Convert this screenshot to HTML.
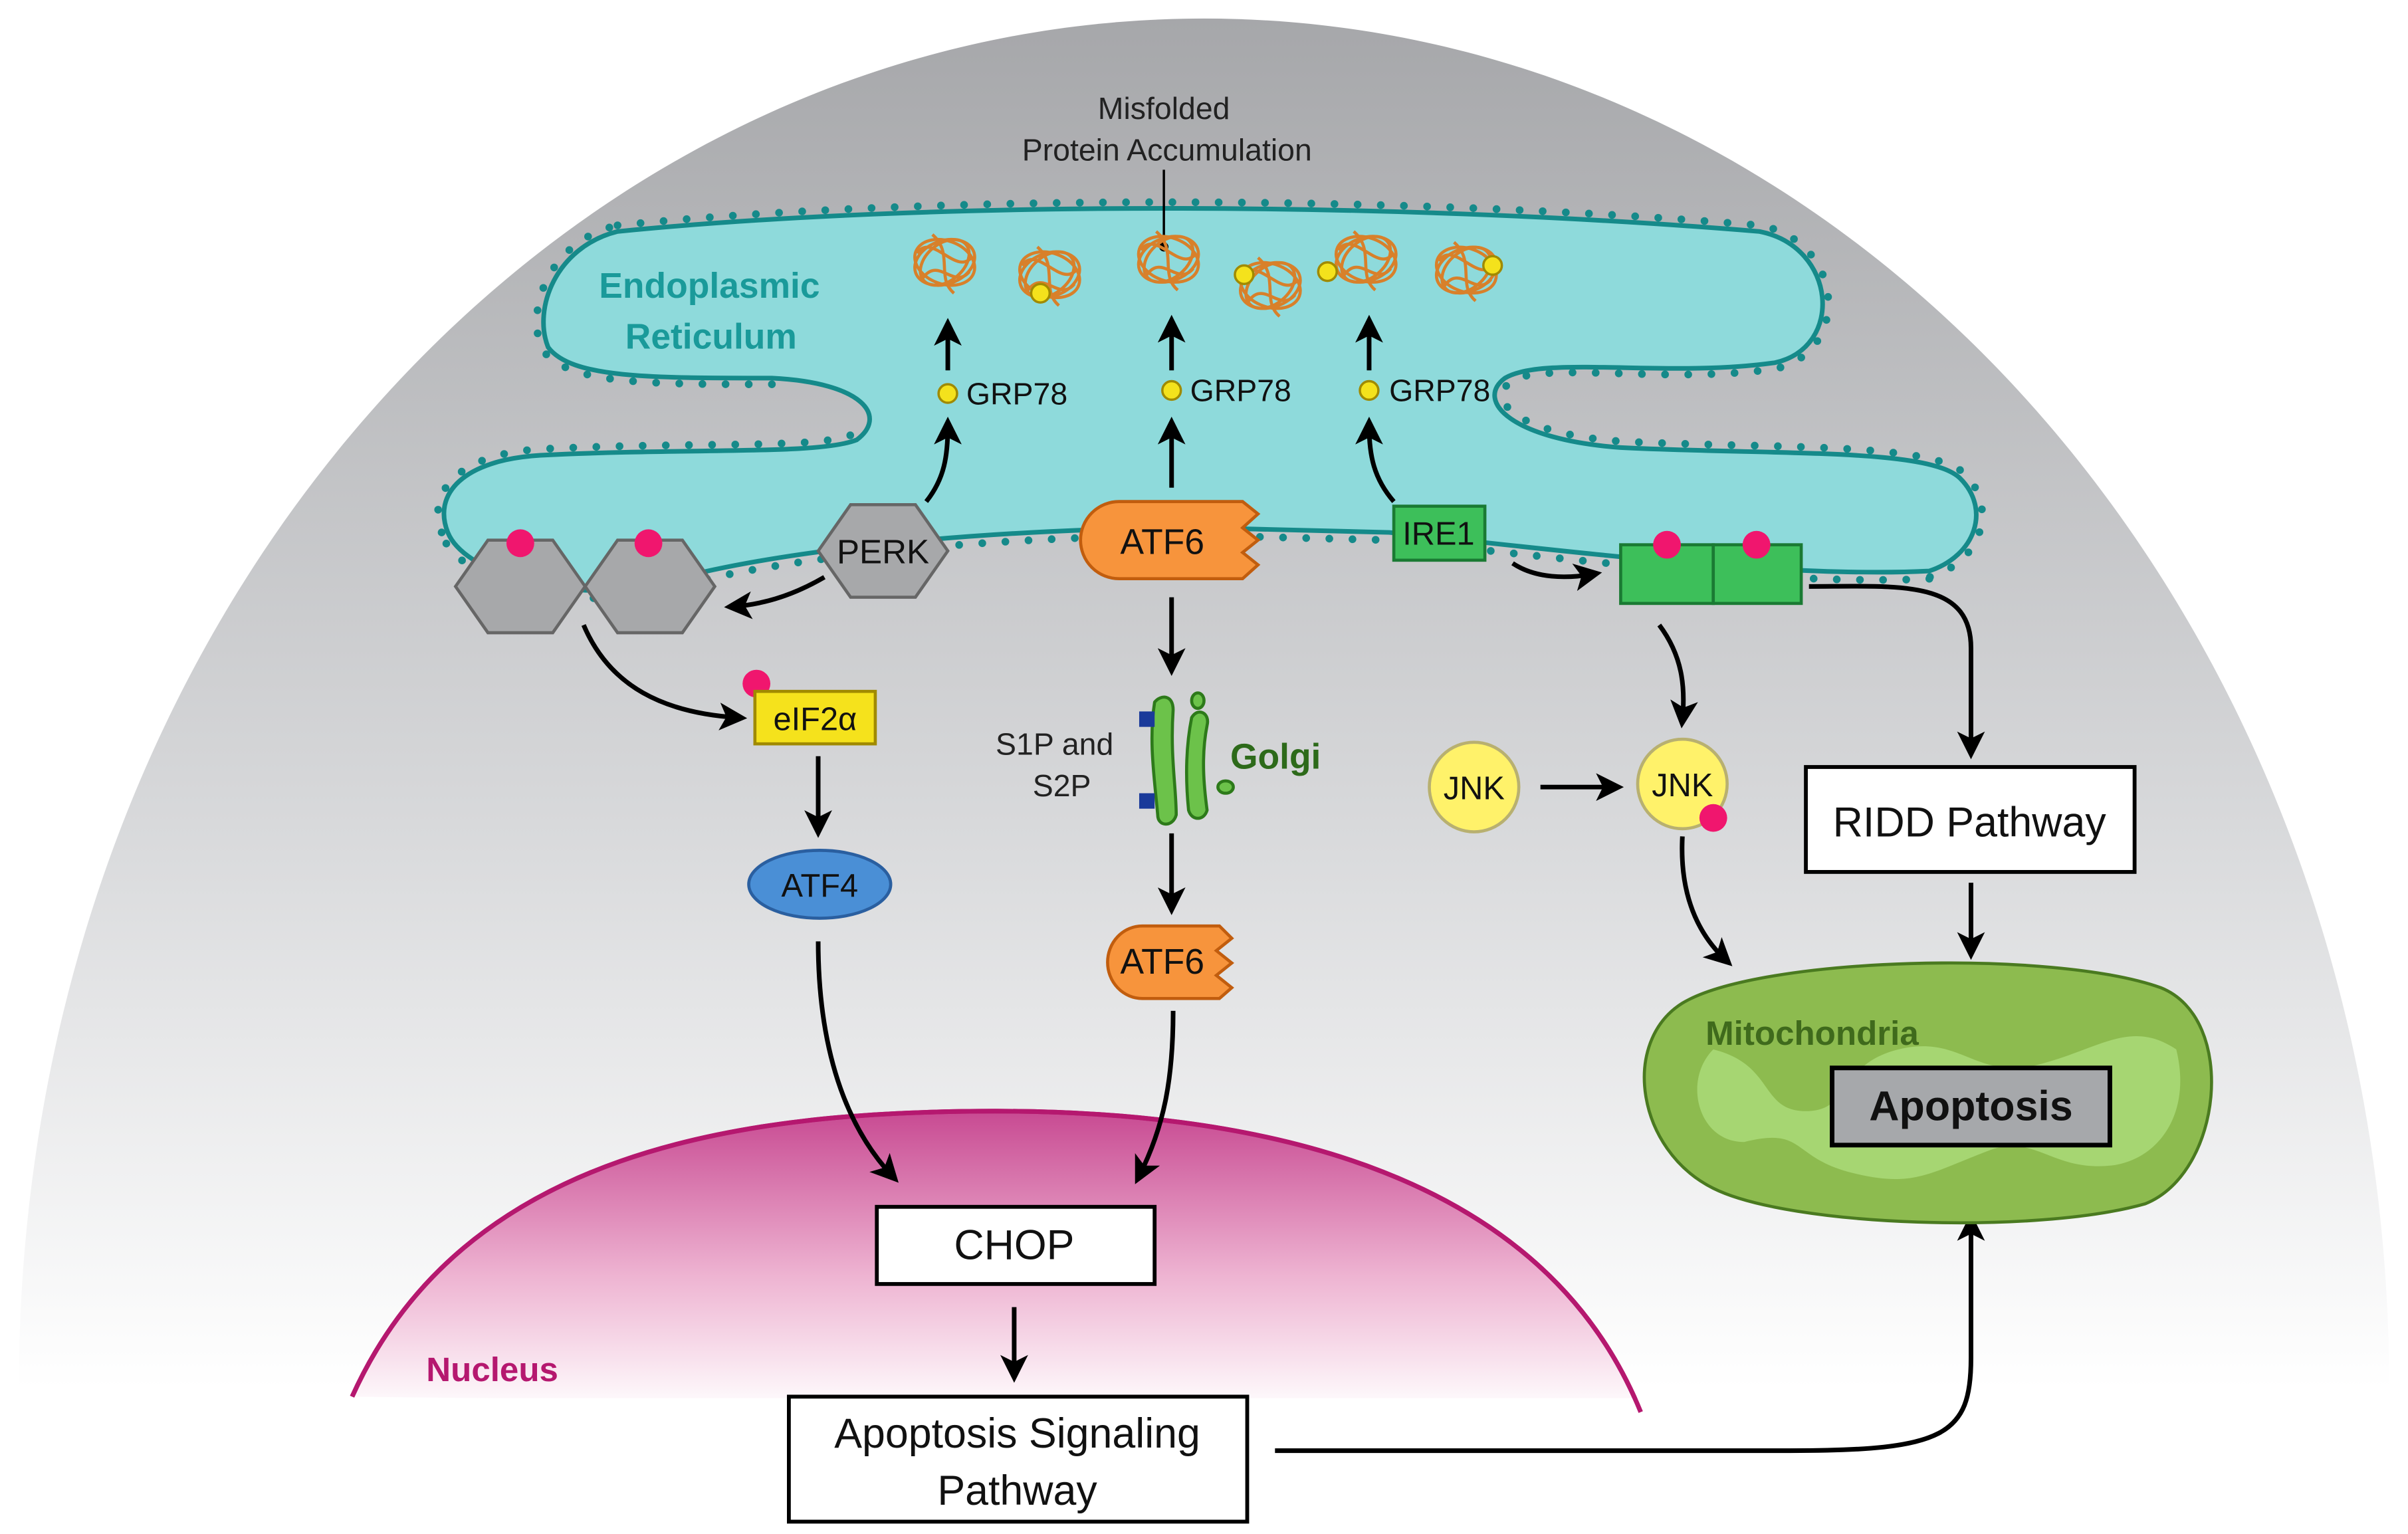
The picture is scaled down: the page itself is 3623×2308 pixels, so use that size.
<!DOCTYPE html>
<html><head><meta charset="utf-8"><style>
html,body{margin:0;padding:0;background:#fff;}
svg{display:block;}
text{font-family:"Liberation Sans",sans-serif;}
</style></head><body>
<svg width="3623" height="2308" viewBox="0 0 1560 994" xmlns="http://www.w3.org/2000/svg">
<defs>
<linearGradient id="bg" x1="0" y1="0" x2="0" y2="1">
<stop offset="0" stop-color="#a6a7aa"/><stop offset="0.6" stop-color="#d9dadc"/><stop offset="1" stop-color="#ffffff"/>
</linearGradient>
<linearGradient id="nuc" x1="0" y1="0" x2="0" y2="1">
<stop offset="0" stop-color="#c84a92"/><stop offset="0.55" stop-color="#eeb4d2"/><stop offset="1" stop-color="#ffffff"/>
</linearGradient>
<marker id="ah" markerWidth="6" markerHeight="6" refX="4" refY="3" orient="auto" markerUnits="strokeWidth">
<path d="M0,0 L6,3 L0,6 L1.5,3 Z" fill="#000"/>
</marker>
<g id="tangle" fill="none" stroke="#d8802a" stroke-width="2">
<ellipse cx="0" cy="0" rx="20" ry="14" transform="rotate(20)"/>
<ellipse cx="0" cy="0" rx="18" ry="12" transform="rotate(-40)"/>
<ellipse cx="0" cy="0" rx="14" ry="20" transform="rotate(70)"/>
<path d="M-18,-6 C-8,-20 8,10 18,-4 M-14,10 C-4,-4 6,18 16,6 M-8,-18 C6,-6 -6,10 6,20"/>
</g>
</defs>
<rect width="1560" height="994" fill="#fff"/>
<path d="M12,900 C12,400 360,12 780,12 C1200,12 1548,400 1548,900 Z" fill="url(#bg)"/>
<path d="M228,905 C300,745 480,720 645,720 C820,720 1000,760 1063,915" fill="url(#nuc)" stroke="#b5186f" stroke-width="3"/>
<rect x="0" y="906" width="1560" height="90" fill="#fff"/>
<path d="M228,905 C300,745 480,720 645,720 C820,720 1000,760 1063,915" fill="none" stroke="#b5186f" stroke-width="3"/>
<text x="276" y="895" font-size="22" font-weight="bold" fill="#b5186f">Nucleus</text>

<!-- ER -->
<path id="er" d="M400,150 C600,130 900,130 1140,150 C1190,160 1195,225 1150,235 C1080,245 1000,230 975,245 C955,260 980,285 1050,290 C1150,295 1250,290 1270,310 C1290,330 1280,360 1250,370 C1150,375 1000,355 900,345 L780,342 C650,342 500,355 420,380 C360,390 300,370 290,345 C280,320 300,298 350,295 C450,290 530,295 555,285 C575,270 560,248 500,245 C420,245 370,245 355,225 C345,200 360,160 400,150 Z" fill="#8edadb" stroke="#158a8a" stroke-width="3"/>
<path d="M400,146 C600,126 900,126 1140,146 C1195,156 1200,228 1150,239 C1080,249 1000,234 979,247 C962,260 984,281 1050,286 C1150,291 1254,286 1274,308 C1294,330 1284,364 1250,374" fill="none" stroke="#158a8a" stroke-width="5" stroke-linecap="round" stroke-dasharray="0 15"/>
<path d="M286,345 C276,318 298,294 350,291 C450,286 528,291 551,282 M500,249 C420,249 366,249 351,226 C340,200 356,156 400,146" fill="none" stroke="#158a8a" stroke-width="5" stroke-linecap="round" stroke-dasharray="0 15"/>
<path d="M1250,375 C1150,380 1000,360 900,350 L780,347 C650,347 500,360 420,385 C360,395 296,375 286,346" fill="none" stroke="#158a8a" stroke-width="5" stroke-linecap="round" stroke-dasharray="0 15"/>
<text x="388" y="193" font-size="23" font-weight="bold" fill="#1a9a9a">Endoplasmic</text>
<text x="405" y="226" font-size="23" font-weight="bold" fill="#1a9a9a">Reticulum</text>

<text x="754" y="77" font-size="20" text-anchor="middle" fill="#222">Misfolded</text>
<text x="756" y="104" font-size="20" text-anchor="middle" fill="#222">Protein Accumulation</text>
<line x1="754" y1="110" x2="754" y2="160" stroke="#000" stroke-width="1.5"/>
<circle cx="754" cy="160" r="3" fill="#000"/>

<use href="#tangle" x="612" y="170"/><use href="#tangle" x="680" y="178"/><use href="#tangle" x="757" y="168"/>
<use href="#tangle" x="823" y="185"/><use href="#tangle" x="885" y="168"/><use href="#tangle" x="950" y="175"/>
<g fill="#f4e21c" stroke="#a08a00" stroke-width="1.5">
<circle cx="674" cy="190" r="6"/><circle cx="806" cy="178" r="6"/><circle cx="860" cy="176" r="6"/><circle cx="967" cy="172" r="6"/>
<circle cx="614" cy="255" r="6"/><circle cx="759" cy="253" r="6"/><circle cx="887" cy="253" r="6"/>
</g>
<g font-size="20" fill="#111">
<text x="626" y="262">GRP78</text><text x="771" y="260">GRP78</text><text x="900" y="260">GRP78</text>
</g>
<g stroke="#000" stroke-width="3" fill="none" marker-end="url(#ah)">
<line x1="614" y1="240" x2="614" y2="212"/><line x1="759" y1="240" x2="759" y2="210"/><line x1="887" y1="240" x2="887" y2="210"/>
<path d="M600,325 C612,310 614,295 614,276"/>
<line x1="759" y1="316" x2="759" y2="276"/>
<path d="M903,325 C890,310 887,295 887,276"/>
<path d="M534,374 C510,388 490,392 475,393"/>
<path d="M980,365 C995,375 1015,375 1032,372"/>
<path d="M1172,380 C1230,380 1277,375 1277,420 L1277,486"/>
<path d="M1075,405 C1090,425 1092,445 1090,466"/>
<line x1="998" y1="510" x2="1046" y2="510"/>
<path d="M1090,542 C1088,580 1100,605 1118,622"/>
<line x1="1277" y1="572" x2="1277" y2="616"/>
<path d="M826,940 L1160,940 C1260,940 1277,930 1277,880 L1277,792"/>
<path d="M378,405 C395,445 430,462 478,465"/>
<line x1="530" y1="490" x2="530" y2="537"/>
<path d="M530,610 C530,680 548,730 578,762"/>
<line x1="759" y1="387" x2="759" y2="432"/>
<line x1="759" y1="540" x2="759" y2="587"/>
<path d="M760,655 C760,700 754,730 738,762"/>
<line x1="657" y1="847" x2="657" y2="890"/>
</g>

<!-- PERK and hexagons -->
<g fill="#a7a8aa" stroke="#666" stroke-width="2">
<polygon points="530,357 551,327 593,327 614,357 593,387 551,387"/>
<polygon points="295,380 316,350 358,350 379,380 358,410 316,410"/>
<polygon points="379,380 400,350 442,350 463,380 442,410 400,410"/>
</g>
<text x="572" y="365" font-size="22" text-anchor="middle" fill="#111">PERK</text>
<g fill="#f0166e"><circle cx="337" cy="352" r="9"/><circle cx="420" cy="352" r="9"/><circle cx="490" cy="443" r="9"/></g>

<!-- ATF6 -->
<path d="M725,325 L805,325 L815,333 L805,342 L815,350 L805,358 L815,366 L805,375 L725,375 A25,25 0 0 1 725,325 Z" fill="#f7943c" stroke="#c15d0e" stroke-width="2"/>
<text x="753" y="359" font-size="23" text-anchor="middle" fill="#111">ATF6</text>
<path d="M740,600 L790,600 L798,608 L788,616 L798,624 L788,632 L798,640 L790,647 L740,647 A22,23 0 0 1 740,600 Z" fill="#f7943c" stroke="#c15d0e" stroke-width="2"/>
<text x="753" y="631" font-size="23" text-anchor="middle" fill="#111">ATF6</text>

<!-- IRE1 -->
<rect x="903" y="328" width="59" height="35" fill="#3dbf5a" stroke="#1a7a33" stroke-width="2"/>
<text x="932" y="353" font-size="21" text-anchor="middle" fill="#111">IRE1</text>
<rect x="1050" y="353" width="60" height="38" fill="#3dbf5a" stroke="#1a7a33" stroke-width="2"/>
<rect x="1110" y="353" width="57" height="38" fill="#3dbf5a" stroke="#1a7a33" stroke-width="2"/>
<g fill="#f0166e"><circle cx="1080" cy="353" r="9"/><circle cx="1138" cy="353" r="9"/></g>

<!-- JNK -->
<circle cx="955" cy="510" r="29" fill="#fff26a" stroke="#b8b070" stroke-width="2"/>
<text x="955" y="518" font-size="21" text-anchor="middle" fill="#111">JNK</text>
<circle cx="1090" cy="508" r="29" fill="#fff26a" stroke="#b8b070" stroke-width="2"/>
<text x="1090" y="516" font-size="21" text-anchor="middle" fill="#111">JNK</text>
<circle cx="1110" cy="530" r="9" fill="#f0166e"/>

<!-- RIDD -->
<rect x="1170" y="497" width="213" height="68" fill="#fff" stroke="#000" stroke-width="2.5"/>
<text x="1276" y="542" font-size="27" text-anchor="middle" fill="#111">RIDD Pathway</text>

<!-- Mitochondria -->
<path d="M1090,650 C1140,620 1330,615 1400,640 C1450,660 1440,760 1390,780 C1320,800 1160,795 1110,770 C1060,745 1050,675 1090,650 Z" fill="#8dbb4f" stroke="#4a7a20" stroke-width="2"/>
<path d="M1110,680 C1150,690 1140,720 1170,720 C1200,720 1190,690 1230,680 C1270,670 1280,700 1320,690 C1360,680 1380,660 1410,680 C1420,720 1400,750 1370,755 C1330,760 1320,735 1290,745 C1250,760 1240,770 1200,760 C1160,750 1170,730 1130,740 C1100,740 1090,700 1110,680 Z" fill="#a6d672"/>
<text x="1105" y="677" font-size="22" font-weight="bold" fill="#3f6a1c">Mitochondria</text>
<rect x="1187" y="692" width="180" height="50" fill="#a6a8ab" stroke="#000" stroke-width="3"/>
<text x="1277" y="726" font-size="27" font-weight="bold" text-anchor="middle" fill="#111">Apoptosis</text>

<!-- eIF2a / ATF4 -->
<rect x="489" y="448" width="78" height="34" fill="#f5e21c" stroke="#a08a00" stroke-width="2"/>
<text x="528" y="473" font-size="21" text-anchor="middle" fill="#111">eIF2α</text>
<ellipse cx="531" cy="573" rx="46" ry="22" fill="#4a8fd6" stroke="#2a5fa0" stroke-width="2"/>
<text x="531" y="581" font-size="21" text-anchor="middle" fill="#111">ATF4</text>

<!-- Golgi -->
<g fill="#6cc24a" stroke="#2d7a1a" stroke-width="2">
<path d="M748,455 C752,450 760,450 760,460 C758,490 762,510 762,528 C760,536 750,536 750,528 C748,505 744,480 748,455 Z"/>
<path d="M772,465 C776,458 784,462 782,470 C778,490 780,510 782,525 C780,532 772,532 770,525 C768,505 768,485 772,465 Z"/>
<ellipse cx="776" cy="454" rx="4" ry="5"/><ellipse cx="794" cy="510" rx="5" ry="4"/>
</g>
<rect x="738" y="461" width="10" height="10" fill="#1a3a9a"/><rect x="738" y="514" width="10" height="10" fill="#1a3a9a"/>
<text x="645" y="489" font-size="20" fill="#222">S1P and</text>
<text x="669" y="516" font-size="20" fill="#222">S2P</text>
<text x="797" y="498" font-size="23" font-weight="bold" fill="#2d6a1a">Golgi</text>

<!-- CHOP / Apoptosis signaling -->
<rect x="568" y="782" width="180" height="50" fill="#fff" stroke="#000" stroke-width="2.5"/>
<text x="657" y="816" font-size="27" text-anchor="middle" fill="#111">CHOP</text>
<rect x="511" y="905" width="297" height="81" fill="#fff" stroke="#000" stroke-width="2.5"/>
<text x="659" y="938" font-size="27" text-anchor="middle" fill="#111">Apoptosis Signaling</text>
<text x="659" y="975" font-size="27" text-anchor="middle" fill="#111">Pathway</text>
</svg>
</body></html>
